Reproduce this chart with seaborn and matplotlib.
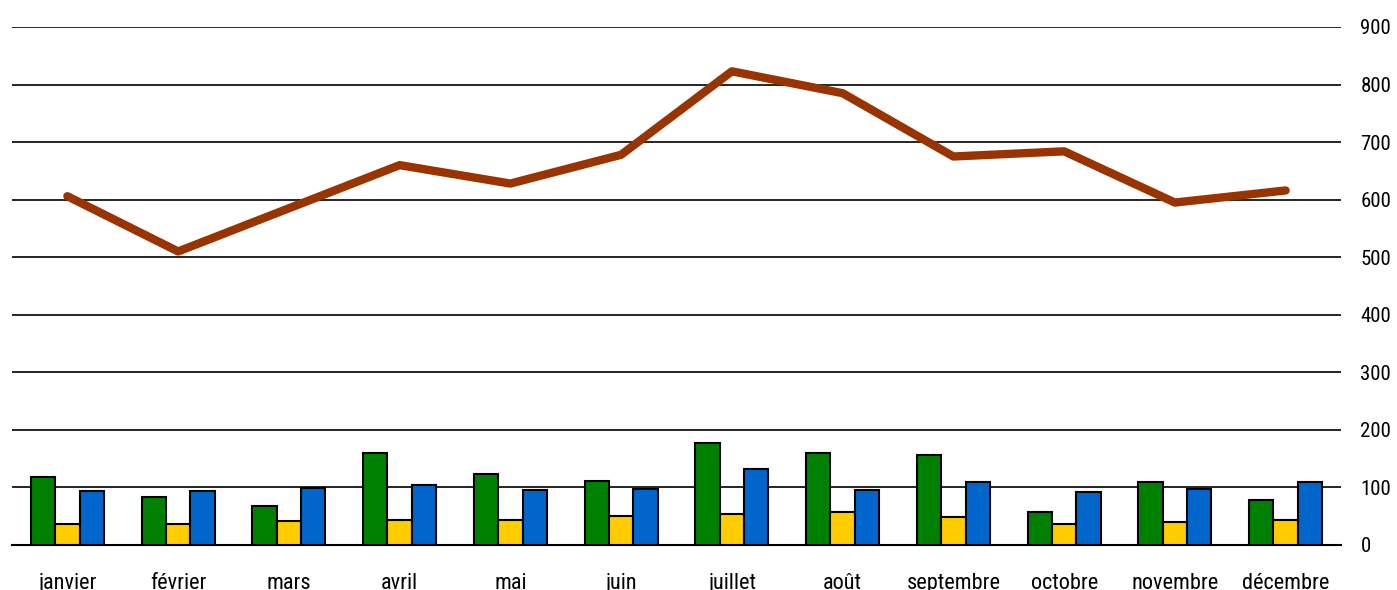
import numpy as np
import pandas as pd
import matplotlib
matplotlib.use("Agg")
import matplotlib.pyplot as plt
import seaborn as sns
from matplotlib import font_manager

months = ["janvier", "février", "mars", "avril", "mai", "juin",
          "juillet", "août", "septembre", "octobre", "novembre", "décembre"]
serie_verte = [119, 84, 68, 159, 123, 112, 177, 159, 157, 57, 110, 79]
serie_jaune = [36, 36, 41, 44, 43, 50, 53, 58, 48, 37, 40, 44]
serie_bleue = [94, 94, 99, 104, 96, 97, 132, 95, 110, 92, 98, 110]
total = [606, 510, 585, 660, 628, 678, 823, 785, 675, 684, 595, 616]
y_ticks = [0, 100, 200, 300, 400, 500, 600, 700, 800, 900]

colors = ["#008000", "#FFCC00", "#0066CC"]

df = pd.DataFrame({
    "mois": months * 3,
    "serie": ["a"] * 12 + ["b"] * 12 + ["c"] * 12,
    "valeur": serie_verte + serie_jaune + serie_bleue,
})

sns.set_style("white")
names = {f.name for f in font_manager.fontManager.ttflist}
narrow = [n for n in ["Liberation Sans Narrow", "Roboto Condensed", "Open Sans Condensed",
                      "Noto Sans Condensed", "DejaVu Sans"] if n in names]
plt.rcParams["font.family"] = narrow + ["DejaVu Sans"]
plt.rcParams["font.stretch"] = "condensed"

fig = plt.figure(figsize=(13.97, 5.9), dpi=100)
ax = fig.add_axes([12 / 1397, 45 / 590, (1341 - 12) / 1397, (545 - 27) / 590])

sns.barplot(data=df, x="mois", y="valeur", hue="serie", order=months,
            palette=colors, saturation=1, width=0.66, edgecolor="black",
            linewidth=1.5, legend=False, ax=ax, zorder=3)
sns.lineplot(x=np.arange(len(months)), y=total, color="#993300",
             linewidth=6, ax=ax, zorder=4, solid_capstyle="round")

ax.set_xlim(-0.5, len(months) - 0.5)
ax.set_ylim(0, 900)
ax.set_yticks(y_ticks)
ax.yaxis.tick_right()
ax.tick_params(axis="y", length=0, pad=14, labelsize=15, labelcolor="black")
ax.grid(axis="y", color="black", linewidth=1.2, zorder=0)
ax.set_axisbelow(True)

# tick marks between categories, labels at centres
ax.set_xticks(np.arange(-0.5, len(months), 1.0))
ax.set_xticklabels([])
ax.set_xticks(np.arange(len(months)), minor=True)
ax.set_xticklabels(months, minor=True, fontsize=16, color="black")
ax.tick_params(axis="x", which="major", length=7, color="#999999", width=1, direction="out")
ax.tick_params(axis="x", which="minor", length=0, pad=20)

for side in ["top", "left", "right"]:
    ax.spines[side].set_visible(False)
ax.spines["bottom"].set_color("black")
ax.spines["bottom"].set_linewidth(1.5)
ax.set_xlabel("")
ax.set_ylabel("")

fig.savefig("out.png", dpi=100)
